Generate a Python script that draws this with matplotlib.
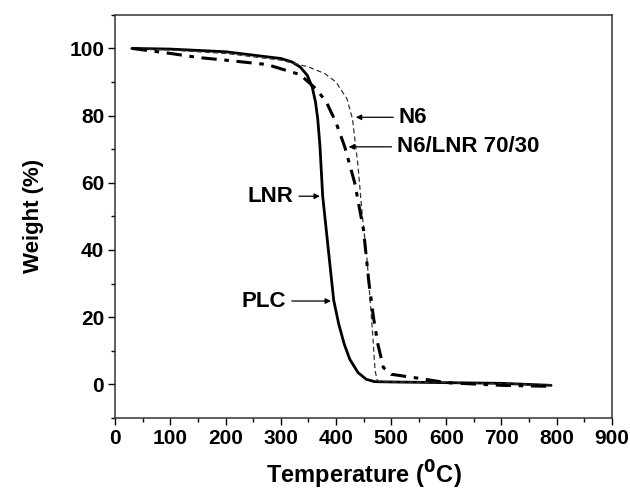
import numpy as np
import matplotlib
matplotlib.use("Agg")
from matplotlib import pyplot as plt

# TGA curves
plc_temp = [30, 100, 200, 300, 320, 335, 348, 357, 363, 367, 371, 376, 385, 396, 405, 415, 425, 440, 455, 470, 500, 600, 700, 790]
plc_weight = [100, 99.8, 99, 97, 96, 94.5, 92, 88.5, 84, 79, 71, 56, 42, 25, 18, 12, 7.5, 3.5, 1.5, 0.8, 0.7, 0.5, 0.3, -0.3]

n6_temp = [30, 100, 200, 300, 350, 380, 400, 420, 430, 440, 448, 456, 462, 467, 471, 475, 480, 500, 600, 700, 790]
n6_weight = [100, 99.5, 98.5, 96.5, 94.5, 92.5, 90, 85, 79, 65, 50, 38, 25, 14, 4, 1.2, 0.8, 0.7, 0.5, 0.2, -0.2]

blend_temp = [30, 100, 150, 200, 275, 335, 365, 383, 400, 416, 434, 450, 460, 468, 476, 486, 500, 550, 600, 700, 790]
blend_weight = [100, 98.5, 97.3, 96.5, 95.2, 92.2, 87.8, 83.9, 78, 70.7, 60, 46, 30, 20, 12, 5, 3, 1.8, 0.5, -0.3, -0.6]

plt.rcParams['font.family'] = ['Liberation Sans', 'DejaVu Sans']
plt.rcParams['font.weight'] = 'bold'

fig = plt.figure(figsize=(6.3, 4.94), dpi=100)
ax = fig.add_axes([0.183, 0.154, 0.788, 0.816])

ax.plot(plc_temp, plc_weight, color='black', lw=2.0, solid_capstyle='round')
ax.plot(n6_temp, n6_weight, color='#333333', lw=0.9, dashes=(4, 2.5))
ax.plot(blend_temp, blend_weight, color='black', lw=2.2, dashes=(5, 2.5, 1.5, 2.5))

ax.set_xlim(0, 900)
ax.set_ylim(-10, 110)
ax.set_xticks(np.arange(0, 901, 100))
ax.set_xticks(np.arange(0, 901, 50), minor=True)
ax.set_yticks(np.arange(0, 101, 20))
ax.set_yticks(np.arange(-10, 111, 10), minor=True)
ax.tick_params(which='major', direction='out', length=5, width=1, labelsize=15, pad=3)
ax.tick_params(which='minor', direction='out', length=3, width=1)
for lab in ax.get_xticklabels() + ax.get_yticklabels():
    lab.set_fontweight('bold')
for s in ax.spines.values():
    s.set_linewidth(1.1)
    s.set_color('#333333')

ax.set_xlabel('Temperature ($\\mathbf{^{0}}$C)', fontsize=17, fontweight='bold', labelpad=8)
ax.set_ylabel('Weight (%)', fontsize=16, fontweight='bold', labelpad=18)

arrow = dict(arrowstyle='-|>', color='black', lw=0.9, mutation_scale=8)
ax.annotate('N6', xy=(431, 79.5), xytext=(514, 79.5), fontsize=16, fontweight='bold',
            va='center', ha='left', arrowprops=arrow)
ax.annotate('N6/LNR 70/30', xy=(418, 70.7), xytext=(511, 70.7), fontsize=16, fontweight='bold',
            va='center', ha='left', arrowprops=arrow)
ax.annotate('LNR', xy=(376, 56), xytext=(323, 56), fontsize=16, fontweight='bold',
            va='center', ha='right', arrowprops=arrow)
ax.annotate('PLC', xy=(396, 24.8), xytext=(310, 24.8), fontsize=16, fontweight='bold',
            va='center', ha='right', arrowprops=arrow)

fig.savefig('out.png', dpi=100)
